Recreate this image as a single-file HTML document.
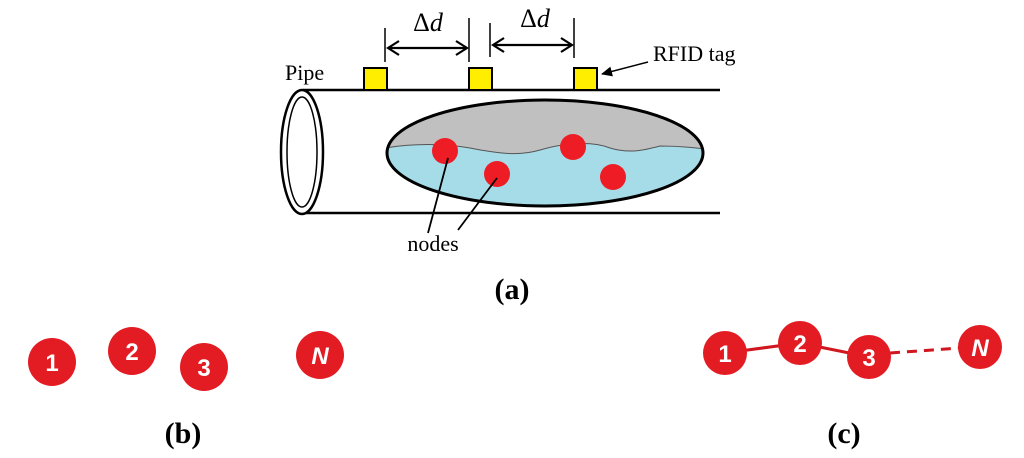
<!DOCTYPE html>
<html><head><meta charset="utf-8"><style>html,body{margin:0;padding:0;background:#fff}svg{display:block}</style></head>
<body>
<svg width="1024" height="458" viewBox="0 0 1024 458" xmlns="http://www.w3.org/2000/svg">
<defs>
<clipPath id="ec"><ellipse cx="545" cy="153" rx="158" ry="53"/></clipPath>
<marker id="ah" markerWidth="14" markerHeight="16" refX="12" refY="8" orient="auto-start-reverse" markerUnits="userSpaceOnUse"><path d="M1,1 L12,8 L1,15" fill="none" stroke="#000" stroke-width="2.2"/></marker>
<marker id="ah2" markerWidth="12" markerHeight="12" refX="10" refY="6" orient="auto" markerUnits="userSpaceOnUse"><path d="M0,1 L11,6 L0,11 Z" fill="#000"/></marker>
</defs>
<line x1="303" y1="90" x2="720" y2="90" stroke="#000" stroke-width="2.5"/>
<line x1="303" y1="213" x2="720" y2="213" stroke="#000" stroke-width="2.5"/>
<ellipse cx="302" cy="152" rx="21" ry="62" fill="#fff" stroke="#000" stroke-width="2.5"/>
<ellipse cx="302" cy="152" rx="15" ry="55" fill="#fff" stroke="#000" stroke-width="1.5"/>
<rect x="364" y="68" width="23" height="22" fill="#ffee00" stroke="#000" stroke-width="2"/>
<rect x="469" y="68" width="23" height="22" fill="#ffee00" stroke="#000" stroke-width="2"/>
<rect x="574" y="68" width="23" height="22" fill="#ffee00" stroke="#000" stroke-width="2"/>
<g stroke="#000" stroke-width="1.5">
<line x1="385" y1="28" x2="385" y2="62"/><line x1="469" y1="18" x2="469" y2="62"/>
<line x1="490" y1="23" x2="490" y2="57"/><line x1="574" y1="18" x2="574" y2="58"/>
<line x1="388" y1="48" x2="467" y2="48" marker-start="url(#ah)" marker-end="url(#ah)" stroke-width="2.2"/>
<line x1="493" y1="45" x2="572" y2="45" marker-start="url(#ah)" marker-end="url(#ah)" stroke-width="2.2"/>
<line x1="648" y1="62" x2="602" y2="74" marker-end="url(#ah2)"/>
</g>
<g font-family="Liberation Serif,serif" font-size="26" fill="#000">
<text x="428" y="31" text-anchor="middle">Δ<tspan font-style="italic">d</tspan></text>
<text x="535" y="27" text-anchor="middle">Δ<tspan font-style="italic">d</tspan></text>
</g>
<g font-family="Liberation Serif,serif" font-size="22" fill="#000">
<text x="653" y="61">RFID tag</text>
<text x="285" y="80">Pipe</text>
<text x="433" y="251" text-anchor="middle">nodes</text>
</g>
<g clip-path="url(#ec)">
<rect x="380" y="95" width="330" height="120" fill="#c0c0c0"/>
<path d="M385,148 C410,144 440,143 470,148 C500,154 520,156 540,150 C560,144 590,140 610,148 C630,154 645,150 660,146 C680,146 700,148 710,150 L710,215 L385,215 Z" fill="#a6dce8" stroke="#555" stroke-width="1"/>
</g>
<ellipse cx="545" cy="153" rx="158" ry="53" fill="none" stroke="#000" stroke-width="3"/>
<g fill="#ee1c24">
<circle cx="445" cy="151" r="13"/><circle cx="497" cy="174" r="13"/>
<circle cx="573" cy="147" r="13"/><circle cx="613" cy="177" r="13"/>
</g>
<line x1="448" y1="158" x2="428" y2="233" stroke="#000" stroke-width="1.8"/>
<line x1="497" y1="178" x2="458" y2="230" stroke="#000" stroke-width="1.8"/>
<g font-family="Liberation Serif,serif" font-size="30" font-weight="bold" fill="#000" text-anchor="middle">
<text x="512" y="299">(a)</text>
<text x="183" y="443">(b)</text>
<text x="844" y="443">(c)</text>
</g>
<g stroke="#d0161e" stroke-width="3" fill="none">
<polyline points="725,353 800,343 869,357"/>
<line x1="869" y1="357" x2="890" y2="353"/>
<line x1="890" y1="353" x2="960" y2="348" stroke-dasharray="10,7"/>
</g>
<g fill="#e31b23">
<circle cx="52" cy="362" r="24"/><circle cx="132" cy="351" r="24"/><circle cx="204" cy="367" r="24"/><circle cx="320" cy="355" r="24"/>
<circle cx="725" cy="353" r="22"/><circle cx="800" cy="343" r="22"/><circle cx="869" cy="357" r="22"/><circle cx="980" cy="347" r="22"/>
</g>
<g font-family="Liberation Sans,sans-serif" font-size="24" font-weight="bold" fill="#fff" text-anchor="middle">
<text x="52" y="371">1</text><text x="132" y="360">2</text><text x="204" y="376">3</text><text x="320" y="364" font-style="italic">N</text>
<text x="725" y="362">1</text><text x="800" y="352">2</text><text x="869" y="366">3</text><text x="980" y="356" font-style="italic">N</text>
</g>
</svg>
</body></html>
